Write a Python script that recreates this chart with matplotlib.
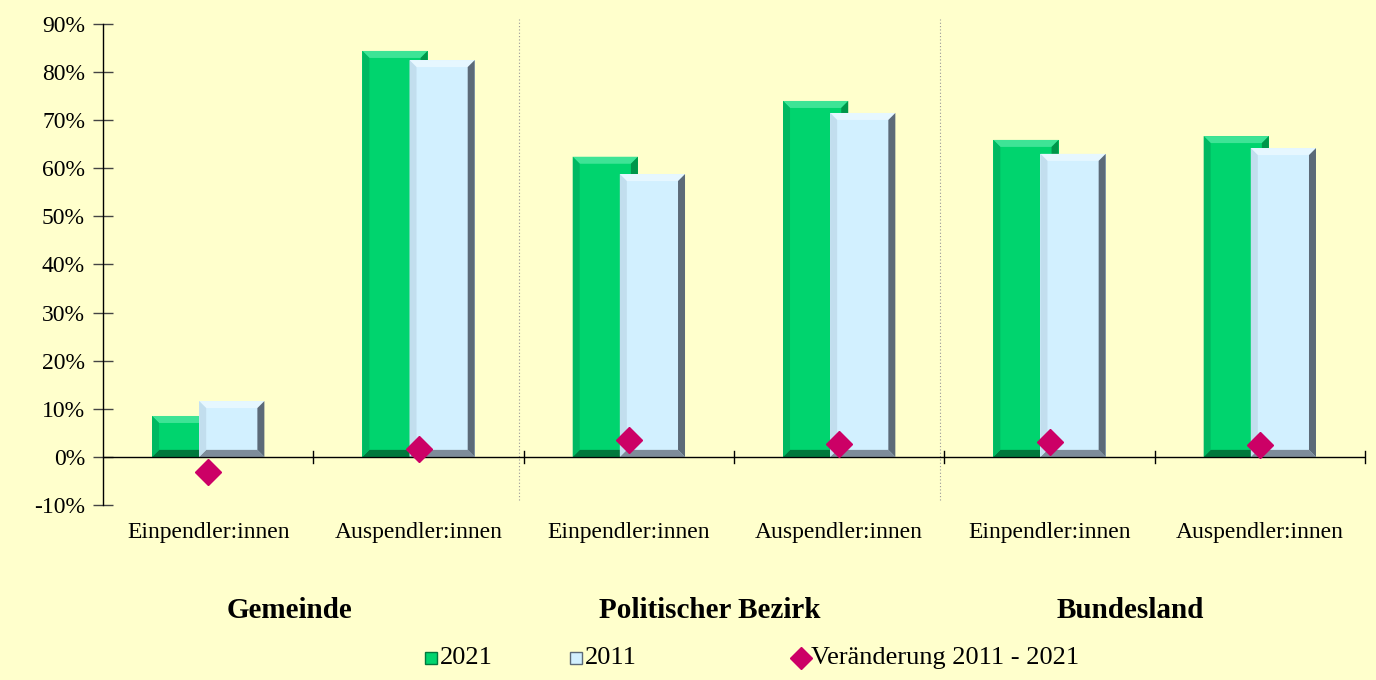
import matplotlib
matplotlib.use('Agg')
import matplotlib.pyplot as plt
from matplotlib.patches import Polygon
import matplotlib.transforms as mtransforms

plt.rcParams['font.family'] = ['Liberation Serif', 'DejaVu Serif']

# data
categories = ['Einpendler:innen', 'Auspendler:innen'] * 3
groups = ['Gemeinde', 'Politischer Bezirk', 'Bundesland']
share_2021 = [8.5, 84.4, 62.4, 74.0, 65.9, 66.7]
share_2011 = [11.6, 82.5, 58.8, 71.5, 63.0, 64.2]
change = [-3.1, 1.7, 3.5, 2.7, 3.1, 2.5]
y_ticks = list(range(-10, 91, 10))
legend_labels = ['2021', '2011', 'Veränderung 2011 - 2021']

bg = '#FFFFCC'
diamond = '#CC0066'
green = dict(face='#00D46E', top='#3EE496', left='#00B862', right='#00964A', bottom='#00783C')
blue = dict(face='#D2F0FF', top='#E6F7FF', left='#C2DEEE', right='#5C6A78', bottom='#7E8C9A')

fig = plt.figure(figsize=(13.76, 6.8), dpi=100, facecolor=bg)
ax = fig.add_axes([0.0749, 0.2574, 0.9171, 0.7073], facecolor=bg)
ax.set_xlim(-0.5, 5.5)
ax.set_ylim(-10, 90)

# bevel size in data units (about 7 px)
ax_w = 0.9171 * 1376
ax_h = 0.7073 * 680
bx = 7 * 6.0 / ax_w
by = 7 * 100.0 / ax_h


def bevel_bar(ax, xc, w, h, c, z):
    x0, x1 = xc - w / 2, xc + w / 2
    b = min(by, h / 2)
    ax.add_patch(Polygon([(x0, 0), (x1, 0), (x1, h), (x0, h)], closed=True, fc=c['face'], ec='none', zorder=z))
    ax.add_patch(Polygon([(x0, h), (x1, h), (x1 - bx, h - b), (x0 + bx, h - b)], closed=True, fc=c['top'], ec='none', zorder=z + 0.1))
    ax.add_patch(Polygon([(x0, 0), (x1, 0), (x1 - bx, b), (x0 + bx, b)], closed=True, fc=c['bottom'], ec='none', zorder=z + 0.1))
    ax.add_patch(Polygon([(x0, 0), (x0 + bx, b), (x0 + bx, h - b), (x0, h)], closed=True, fc=c['left'], ec='none', zorder=z + 0.1))
    ax.add_patch(Polygon([(x1, 0), (x1 - bx, b), (x1 - bx, h - b), (x1, h)], closed=True, fc=c['right'], ec='none', zorder=z + 0.1))


width = 0.31
for i in range(len(categories)):
    bevel_bar(ax, i - 0.112, width, share_2021[i], green, 2)
    bevel_bar(ax, i + 0.112, width, share_2011[i], blue, 2.5)

ax.plot(range(len(change)), change, linestyle='none', marker='D', markersize=13,
        color=diamond, zorder=5)

# axes styling
for s in ['top', 'right', 'bottom']:
    ax.spines[s].set_visible(False)
ax.spines['left'].set_linewidth(1.0)
ax.axhline(0, color='black', lw=1.0, zorder=4)
ax.set_yticks(y_ticks)
ax.set_yticklabels(['%d%%' % t for t in y_ticks], fontsize=17)
ax.tick_params(axis='y', direction='inout', length=14, width=1, color='#444444', pad=6)
ax.set_xticks([])

# category boundary ticks on zero line
for xb in [0.5, 1.5, 2.5, 3.5, 4.5, 5.5]:
    ax.plot([xb, xb], [-1.3, 1.3], color='black', lw=1, zorder=4, clip_on=False)

# dotted group separators
for xb in [1.5, 3.5]:
    ax.plot([xb - 0.02, xb - 0.02], [-9, 91], color='#999999', lw=0.8,
            linestyle=(0, (1, 2)), zorder=1, clip_on=False)

trans = mtransforms.blended_transform_factory(ax.transData, ax.transAxes)
for i, lab in enumerate(categories):
    ax.text(i, -0.058, lab, transform=trans, ha='center', va='center', fontsize=17)
for g, name in enumerate(groups):
    ax.text(2 * g + 0.385, -0.22, name, transform=trans, ha='center', va='center',
            fontsize=21, fontweight='bold')

# legend drawn by hand, like the original
ly = 0.032
fig.add_artist(plt.Line2D([431 / 1376], [ly], marker='s', markersize=9, linestyle='none',
                          color=green['face'], markeredgecolor=green['bottom'], transform=fig.transFigure))
fig.add_artist(plt.Line2D([576 / 1376], [ly], marker='s', markersize=9, linestyle='none',
                          color=blue['face'], markeredgecolor=blue['right'], transform=fig.transFigure))
fig.add_artist(plt.Line2D([801 / 1376], [ly], marker='D', markersize=11, linestyle='none',
                          color=diamond, transform=fig.transFigure))
for xpx, lab in zip([440, 585, 811], legend_labels):
    fig.text(xpx / 1376, ly, lab, ha='left', va='center', fontsize=19)

fig.savefig('out.png', dpi=100, facecolor=bg)
